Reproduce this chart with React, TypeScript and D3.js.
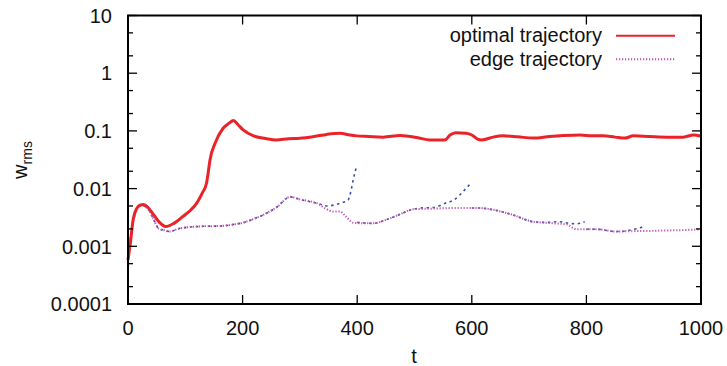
import { useEffect, useRef } from "react"
import * as d3 from "d3"

// values: [t, w_rms]
const optimalTrajectory: [number, number][] = [
  [0, 0.00058], [4, 0.0011], [9, 0.0029], [15, 0.0045], [22, 0.0052], [27, 0.0053],
  [35, 0.0047], [45, 0.0035], [55, 0.0026], [66, 0.0022], [80, 0.0025], [96, 0.0033],
  [110, 0.0043], [120, 0.0056], [130, 0.0085], [137, 0.0124], [140, 0.019], [143, 0.031],
  [152, 0.061], [166, 0.111], [176, 0.135], [184, 0.152], [192, 0.128], [201, 0.104],
  [219, 0.082], [240, 0.074], [259, 0.0695], [280, 0.073], [300, 0.0745], [325, 0.08],
  [347, 0.087], [370, 0.091], [387, 0.085], [399, 0.082], [420, 0.08], [445, 0.078],
  [475, 0.083], [504, 0.077], [527, 0.0695], [553, 0.0695], [562, 0.085], [572, 0.093],
  [590, 0.091], [600, 0.085], [610, 0.072], [617, 0.0695], [637, 0.078], [655, 0.082], [680, 0.079],
  [707, 0.075], [736, 0.08], [760, 0.083], [789, 0.085], [810, 0.082], [829, 0.082],
  [850, 0.078], [867, 0.075], [882, 0.082], [910, 0.08], [940, 0.078], [969, 0.078],
  [987, 0.085], [1000, 0.081],
]

const edgeTrajectory: [number, number][] = [
  [0, 0.0006], [3, 0.0011], [6, 0.0019], [12, 0.0035], [21, 0.0052], [28, 0.005],
  [36, 0.0043], [45, 0.0029], [53, 0.00205], [63, 0.0019], [73, 0.0018], [87, 0.002],
  [102, 0.00213], [130, 0.00222], [160, 0.00225], [185, 0.0024], [201, 0.00257],
  [220, 0.003], [236, 0.0035], [260, 0.0048], [283, 0.0072], [300, 0.0065], [315, 0.0061],
  [329, 0.0056], [345, 0.0045], [358, 0.004], [370, 0.004], [380, 0.0033], [393, 0.00257],
  [410, 0.0025], [428, 0.0025], [451, 0.0029], [475, 0.0036], [498, 0.0044], [533, 0.0045],
  [570, 0.0046], [614, 0.0046], [637, 0.0043], [655, 0.0039], [672, 0.0035], [690, 0.003],
  [707, 0.00267], [742, 0.0025], [765, 0.0024], [783, 0.00197], [818, 0.00197],
  [853, 0.0018], [880, 0.00183], [905, 0.00184], [935, 0.00188], [963, 0.0019], [1000, 0.00197],
]

const restartTrajectories: [number, number][][] = [
  [
    [0, 0.0006], [3, 0.0011], [6, 0.0019], [12, 0.0035], [21, 0.0052], [28, 0.005],
    [36, 0.0043], [45, 0.0029], [53, 0.00205], [63, 0.0019], [73, 0.0018], [87, 0.002],
    [102, 0.00213], [130, 0.00222], [160, 0.00225], [185, 0.0024], [201, 0.00257],
    [220, 0.003], [236, 0.0035], [260, 0.0048], [283, 0.0072], [300, 0.0065],
    [329, 0.0056], [347, 0.005], [373, 0.0057], [384, 0.0063], [389, 0.009],
    [393, 0.0141], [399, 0.0247],
  ],
  [
    [400, 0.0026], [428, 0.0025], [451, 0.0029], [475, 0.0036], [498, 0.0044],
    [510, 0.0046], [533, 0.0047], [556, 0.0057], [568, 0.0063], [588, 0.0096], [597, 0.012],
  ],
  [
    [600, 0.0046], [614, 0.0046], [637, 0.0043], [672, 0.0035], [707, 0.00267],
    [730, 0.0026], [753, 0.00267], [770, 0.0025], [783, 0.00245], [797, 0.00267],
  ],
  [
    [800, 0.00197], [818, 0.00197], [853, 0.0018], [875, 0.0019], [894, 0.0021], [899, 0.0022],
  ],
]

const xTicks = [0, 200, 400, 600, 800, 1000]
const yTicks = [0.0001, 0.001, 0.01, 0.1, 1, 10]
const yTickLabels = ["0.0001", "0.001", "0.01", "0.1", "1", "10"]
const legendLabels = ["optimal trajectory", "edge trajectory"]

export default function App() {
  const svgRef = useRef<SVGSVGElement>(null)

  useEffect(() => {
    if (!svgRef.current) return
    const svg = d3.select(svgRef.current)
    svg.selectAll("*").remove()

    const left = 128, right = 701, top = 15.5, bottom = 304
    const font = "'Liberation Sans', Arial, Helvetica, sans-serif"

    const x = d3.scaleLinear().domain([0, 1000]).range([left, right])
    const y = d3.scaleLog().domain([0.0001, 10]).range([bottom, top])

    const line = d3
      .line<[number, number]>()
      .x((d) => x(d[0]))
      .y((d) => y(d[1]))
      .curve(d3.curveMonotoneX)

    // blue restarted runs
    restartTrajectories.forEach((tr) => {
      svg
        .append("path")
        .datum(tr)
        .attr("fill", "none")
        .attr("stroke", "#3b4fa8")
        .attr("stroke-width", 1.6)
        .attr("stroke-dasharray", "2.5,3.5")
        .attr("d", line)
    })

    // edge trajectory
    svg
      .append("path")
      .datum(edgeTrajectory)
      .attr("fill", "none")
      .attr("stroke", "#c054b0")
      .attr("stroke-width", 2)
      .attr("stroke-dasharray", "1.2,1.8")
      .attr("d", line)

    // optimal trajectory
    svg
      .append("path")
      .datum(optimalTrajectory)
      .attr("fill", "none")
      .attr("stroke", "#ea2329")
      .attr("stroke-width", 3)
      .attr("stroke-linejoin", "round")
      .attr("d", line)

    // ticks
    const ticks = svg.append("g").attr("stroke", "#000").attr("stroke-width", 1.3)
    xTicks.forEach((t) => {
      ticks.append("line").attr("x1", x(t)).attr("x2", x(t)).attr("y1", bottom).attr("y2", bottom - 9)
      ticks.append("line").attr("x1", x(t)).attr("x2", x(t)).attr("y1", top).attr("y2", top + 9)
    })
    yTicks.forEach((v, i) => {
      ticks.append("line").attr("x1", left).attr("x2", left + 9).attr("y1", y(v)).attr("y2", y(v))
      ticks.append("line").attr("x1", right).attr("x2", right - 9).attr("y1", y(v)).attr("y2", y(v))
      if (i < yTicks.length - 1) {
        ;[2, 5].forEach((m) => {
          const yy = y(v * m)
          ticks.append("line").attr("x1", left).attr("x2", left + 5).attr("y1", yy).attr("y2", yy)
          ticks.append("line").attr("x1", right).attr("x2", right - 5).attr("y1", yy).attr("y2", yy)
        })
      }
    })

    // frame
    svg
      .append("rect")
      .attr("x", left)
      .attr("y", top)
      .attr("width", right - left)
      .attr("height", bottom - top)
      .attr("fill", "none")
      .attr("stroke", "#000")
      .attr("stroke-width", 2)

    // tick labels
    const labels = svg.append("g").attr("font-family", font).attr("font-size", 20).attr("fill", "#111")
    xTicks.forEach((t) => {
      labels.append("text").attr("x", x(t)).attr("y", 334.5).attr("text-anchor", "middle").text(t)
    })
    yTicks.forEach((v, i) => {
      labels
        .append("text")
        .attr("x", 112)
        .attr("y", y(v))
        .attr("dy", "0.36em")
        .attr("text-anchor", "end")
        .text(yTickLabels[i])
    })

    // axis titles
    labels.append("text").attr("x", 414).attr("y", 363).attr("text-anchor", "middle").text("t")
    const yt = labels
      .append("text")
      .attr("transform", "rotate(-90)")
      .attr("x", -160)
      .attr("y", 27)
      .attr("text-anchor", "middle")
    yt.append("tspan").text("w")
    yt.append("tspan").attr("font-size", 14).attr("dy", 5).text("rms")

    // legend
    const legend = svg.append("g").attr("font-family", font).attr("font-size", 20).attr("fill", "#111")
    legendLabels.forEach((name, i) => {
      const ly = 35.7 + i * 23.6
      legend.append("text").attr("x", 602).attr("y", ly).attr("dy", "0.33em").attr("text-anchor", "end").text(name)
      legend
        .append("line")
        .attr("x1", 616)
        .attr("x2", 675)
        .attr("y1", ly)
        .attr("y2", ly)
        .attr("stroke", i === 0 ? "#ea2329" : "#c054b0")
        .attr("stroke-width", 2)
        .attr("stroke-dasharray", i === 0 ? null : "1.2,1.8")
    })
  }, [])

  return (
    <svg
      ref={svgRef}
      width={727}
      height={366}
      style={{ position: "absolute", left: 0, top: 0, background: "#fff" }}
    />
  )
}
